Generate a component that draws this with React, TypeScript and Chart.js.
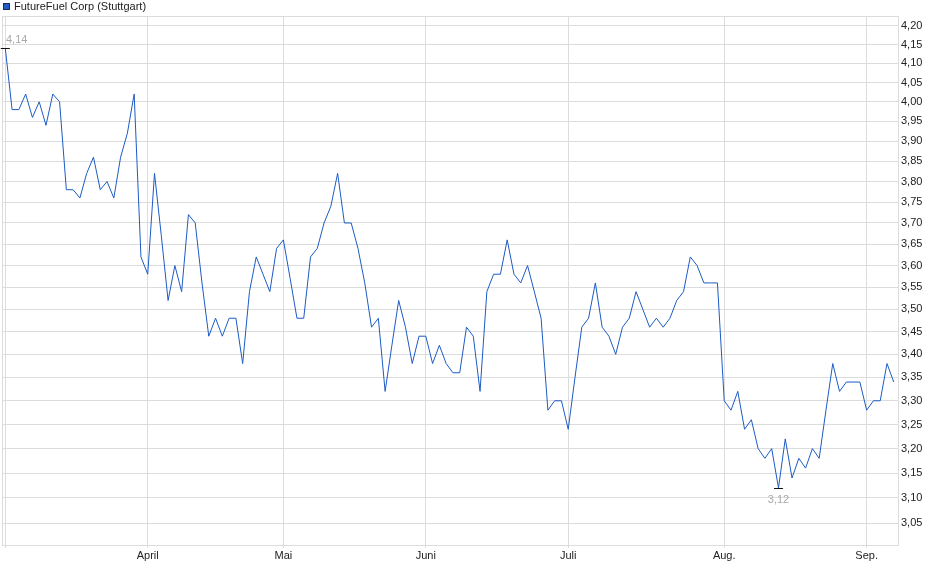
import { useEffect, useRef } from 'react';
import { Chart, registerables } from 'chart.js';

Chart.register(...registerables);

const SERIES_NAME = 'FutureFuel Corp (Stuttgart)';

// daily closing prices, EUR (Stuttgart), early March to early September
const prices = [
  4.14, 3.98, 3.98, 4.02, 3.96, 4.0, 3.94, 4.02, 4.0, 3.78,
  3.78, 3.76, 3.82, 3.86, 3.78, 3.8, 3.76, 3.86, 3.92, 4.02,
  3.62, 3.58, 3.82, 3.67, 3.52, 3.6, 3.54, 3.72, 3.7, 3.56,
  3.44, 3.48, 3.44, 3.48, 3.48, 3.38, 3.54, 3.62, 3.58, 3.54,
  3.64, 3.66, 3.57, 3.48, 3.48, 3.62, 3.64, 3.7, 3.74, 3.82,
  3.7, 3.7, 3.64, 3.56, 3.46, 3.48, 3.32, 3.42, 3.52, 3.46,
  3.38, 3.44, 3.44, 3.38, 3.42, 3.38, 3.36, 3.36, 3.46, 3.44,
  3.32, 3.54, 3.58, 3.58, 3.66, 3.58, 3.56, 3.6, 3.54, 3.48,
  3.28, 3.3, 3.3, 3.24, 3.35, 3.46, 3.48, 3.56, 3.46, 3.44,
  3.4, 3.46, 3.48, 3.54, 3.5, 3.46, 3.48, 3.46, 3.48, 3.52,
  3.54, 3.62, 3.6, 3.56, 3.56, 3.56, 3.3, 3.28, 3.32, 3.24,
  3.26, 3.2, 3.18, 3.2, 3.12, 3.22, 3.14, 3.18, 3.16, 3.2,
  3.18, 3.28, 3.38, 3.32, 3.34, 3.34, 3.34, 3.28, 3.3, 3.3,
  3.38, 3.34,
];

// month labels and number of trading days in each month of the data
const monthLabels = ['', 'April', 'Mai', 'Juni', 'Juli', 'Aug.', 'Sep.'];
const tradingDays = [21, 20, 21, 21, 23, 21, 5];

const yTicks = [
  3.05, 3.1, 3.15, 3.2, 3.25, 3.3, 3.35, 3.4, 3.45, 3.5, 3.55, 3.6,
  3.65, 3.7, 3.75, 3.8, 3.85, 3.9, 3.95, 4.0, 4.05, 4.1, 4.15, 4.2,
];

const LINE = '#1c5bc4';
const GRID = '#dcdcdc';
const TEXT = '#222222';
const FONT = 'Arial, "Liberation Sans", sans-serif';

const monthStarts = tradingDays.map((_, k) =>
  tradingDays.slice(0, k).reduce((a, b) => a + b, 0)
);

const fmt = (v: number) => v.toFixed(2).replace('.', ',');

const framePlugin = {
  id: 'frame',
  beforeDatasetsDraw(chart: any) {
    const { ctx, chartArea: a } = chart;
    ctx.save();
    ctx.strokeStyle = GRID;
    ctx.lineWidth = 1;
    ctx.strokeRect(
      Math.round(a.left) - 0.5,
      Math.round(a.top) + 0.5,
      Math.round(a.right - a.left),
      Math.round(a.bottom - a.top)
    );
    ctx.restore();
  },
  afterDatasetsDraw(chart: any) {
    const { ctx, chartArea: a } = chart;
    const xs = chart.scales.x;
    const ys = chart.scales.y;
    const hi = Math.max(...prices);
    const lo = Math.min(...prices);
    const marks = [
      { i: prices.indexOf(hi), v: hi, above: true },
      { i: prices.indexOf(lo), v: lo, above: false },
    ];
    ctx.save();
    ctx.font = `11px ${FONT}`;
    marks.forEach(m => {
      const px = xs.getPixelForValue(m.i);
      const py = Math.round(ys.getPixelForValue(m.v)) + 0.5;
      ctx.strokeStyle = '#111';
      ctx.lineWidth = 1;
      ctx.beginPath();
      ctx.moveTo(px - 4.5, py);
      ctx.lineTo(px + 4.5, py);
      ctx.stroke();
      const label = fmt(m.v);
      const w = ctx.measureText(label).width;
      let tx = px - w / 2;
      if (tx < a.left + 3) tx = a.left + 3;
      ctx.fillStyle = '#a9a9a9';
      ctx.textAlign = 'left';
      ctx.textBaseline = 'middle';
      ctx.fillText(label, tx, m.above ? py - 9 : py + 11);
    });
    ctx.restore();
  },
  afterDraw(chart: any) {
    const { ctx } = chart;
    ctx.save();
    ctx.fillStyle = '#1f5cc6';
    ctx.fillRect(3, 3, 7, 7);
    ctx.strokeStyle = '#1b2a55';
    ctx.lineWidth = 1;
    ctx.strokeRect(3.5, 3.5, 6, 6);
    ctx.fillStyle = TEXT;
    ctx.font = `11px ${FONT}`;
    ctx.textAlign = 'left';
    ctx.textBaseline = 'middle';
    ctx.fillText(SERIES_NAME, 14, 7);
    ctx.restore();
  },
};

const App = () => {
  const chartRef = useRef<HTMLCanvasElement>(null);
  const chartInstance = useRef<Chart | null>(null);

  useEffect(() => {
    if (!chartRef.current) return;
    if (chartInstance.current) chartInstance.current.destroy();

    const points = prices.map((v, i) => ({ x: i, y: v }));

    chartInstance.current = new Chart(chartRef.current, {
      type: 'line',
      data: {
        datasets: [{
          label: SERIES_NAME,
          data: points,
          borderColor: LINE,
          backgroundColor: LINE,
          borderWidth: 1,
          pointRadius: 0,
          tension: 0,
        }],
      },
      options: {
        responsive: true,
        maintainAspectRatio: false,
        animation: false,
        layout: { padding: { top: 16, left: 3, right: 0, bottom: 0 } },
        plugins: {
          legend: { display: false },
          tooltip: { enabled: false },
        },
        scales: {
          x: {
            type: 'linear',
            min: -0.34,
            max: 131.77,
            afterBuildTicks: (scale: any) => {
              scale.ticks = monthStarts.map(v => ({ value: v }));
            },
            afterFit: (scale: any) => { scale.height = 34; },
            ticks: {
              autoSkip: false,
              maxRotation: 0,
              padding: 1,
              color: TEXT,
              font: { family: FONT, size: 11 },
              callback: (value: any) => {
                const k = monthStarts.indexOf(Number(value));
                return k >= 0 ? monthLabels[k] : '';
              },
            },
            grid: { color: GRID, tickLength: 3, drawTicks: true },
            border: { display: false },
          },
          y: {
            type: 'logarithmic',
            position: 'right',
            min: 3.0075,
            max: 4.2271,
            afterBuildTicks: (scale: any) => {
              scale.ticks = yTicks.map(v => ({ value: v }));
            },
            afterFit: (scale: any) => { scale.width = 41; },
            ticks: {
              autoSkip: false,
              padding: 2,
              color: TEXT,
              font: { family: FONT, size: 11 },
              callback: (value: any) => fmt(Number(value)),
            },
            grid: { color: GRID, drawTicks: false },
            border: { display: false },
          },
        },
      },
      plugins: [framePlugin],
    });

    return () => {
      if (chartInstance.current) {
        chartInstance.current.destroy();
        chartInstance.current = null;
      }
    };
  }, []);

  return (
    <div style={{ position: 'absolute', left: 0, top: 0, width: 940, height: 579 }}>
      <canvas ref={chartRef} />
    </div>
  );
};

export default App;
